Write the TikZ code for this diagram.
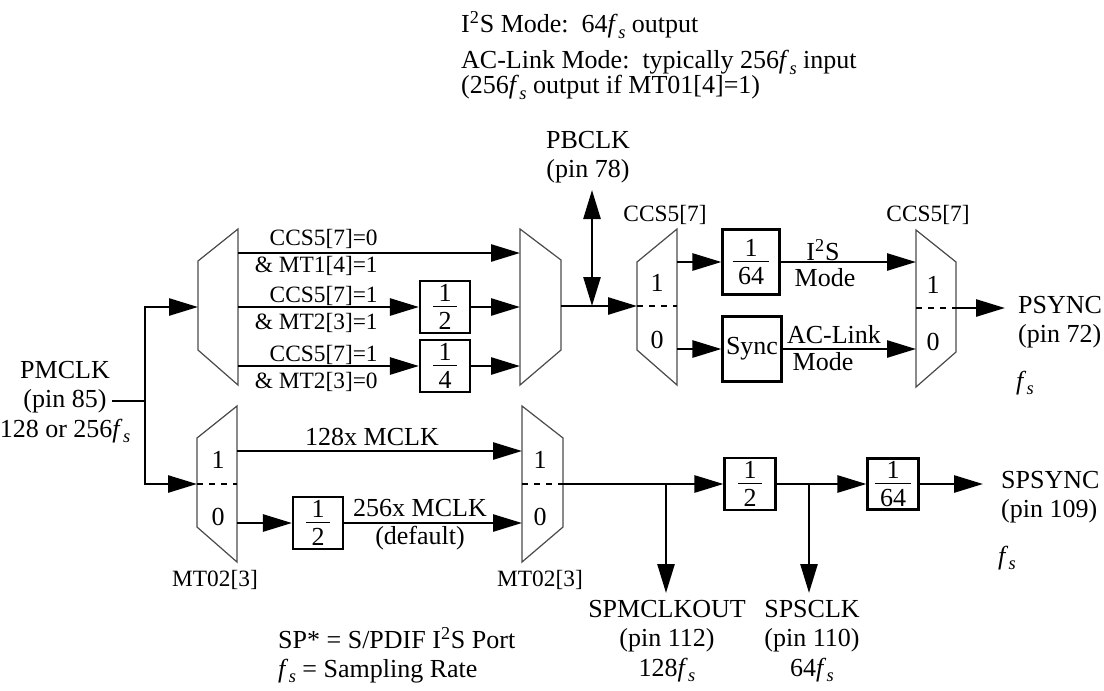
\documentclass[tikz,border=0pt]{standalone}
\usepackage{fontspec}
\setmainfont{Liberation Serif}
\usetikzlibrary{arrows.meta}
\newcommand{\fsx}{\textit{f}\kern0.2pt\raisebox{-0.45ex}{\fontsize{10.5}{11}\selectfont\textit{s}}}
\newcommand{\itwos}{I\textsuperscript{2}S}
\newcommand{\frc}[2]{{\renewcommand{\arraystretch}{0}\setlength{\arrayrulewidth}{0.9pt}%
  \begin{tabular}{@{\hspace{3pt}}c@{\hspace{3pt}}}\rule[-2.2pt]{0pt}{12pt}#1\\\hline\rule{0pt}{12.6pt}#2\end{tabular}}}

\begin{document}
\begin{tikzpicture}[x=0.02cm,y=-0.02cm,font=\fontsize{14.8}{16.6}\selectfont,
    arr/.style={line width=1.5pt,-{Triangle[length=0.58cm,width=0.34cm]}},
    arrb/.style={line width=1.5pt,{Triangle[length=0.58cm,width=0.34cm]}-{Triangle[length=0.58cm,width=0.34cm]}},
    wire/.style={line width=1.5pt},
    mux/.style={draw=black!70,line width=0.7pt},
    sel/.style={line width=1.4pt,dash pattern=on 0.12cm off 0.12cm},
    divbox/.style={draw,line width=1.2pt,inner sep=0pt,minimum width=1cm,minimum height=1.04cm},
    lbl/.style={inner sep=0pt,font=\fontsize{13.3}{15}\selectfont}]
      \useasboundingbox (0,0) rectangle (1104,690);

      \draw[mux] (198,261) -- (238,229) -- (238,385) -- (198,350) -- cycle;
      \draw[mux] (520,229) -- (561,260) -- (561,350) -- (520,385) -- cycle;
      \draw[mux] (637,262) -- (677,229) -- (677,385) -- (637,350) -- cycle;
      \draw[mux] (916,230) -- (956,262) -- (956,352) -- (916,387) -- cycle;
      \draw[mux] (197,438) -- (237,406) -- (237,562) -- (197,527) -- cycle;
      \draw[mux] (522,406) -- (563,438) -- (563,527) -- (522,562) -- cycle;

      \coordinate (pmo) at (112,401);
      \coordinate (jm) at (145,401);
      \coordinate (aIn) at (198,307);
      \coordinate (a1) at (238,253);
      \coordinate (a2) at (238,307);
      \coordinate (a3) at (238,366);
      \coordinate (d1) at (520,253);
      \coordinate (d2) at (520,307);
      \coordinate (d3) at (520,366);
      \coordinate (dOut) at (561,306);
      \coordinate (eIn) at (637,306);
      \coordinate (eR) at (677,306);
      \coordinate (e1) at (677,262);
      \coordinate (e0) at (677,349);
      \coordinate (f1) at (916,262);
      \coordinate (f0) at (916,349);
      \coordinate (fL) at (916,308);
      \coordinate (fOut) at (956,308);
      \coordinate (psA) at (1005,308);
      \coordinate (pbT) at (592,190);
      \coordinate (pbB) at (592,306);
      \coordinate (bIn) at (197,484);
      \coordinate (bR) at (237,484);
      \coordinate (b1) at (237,451);
      \coordinate (b0) at (237,523);
      \coordinate (c1) at (522,451);
      \coordinate (c0) at (522,523);
      \coordinate (cL) at (522,484);
      \coordinate (cOut) at (563,484);
      \coordinate (k1) at (666,484);
      \coordinate (k1e) at (666,593);
      \coordinate (k2) at (809,484);
      \coordinate (k2e) at (809,593);
      \coordinate (spA) at (983,484);

      \node[divbox] (h1) at (445,307) {\frc{1}{2}};
      \node[divbox] (q1) at (445,366) {\frc{1}{4}};
      \node[divbox,minimum width=1.14cm,minimum height=1.3cm] (s64) at (751,262) {\frc{1}{64}};
      \node[divbox,minimum width=1.18cm,minimum height=1.3cm] (sy) at (752,349) {Sync};
      \node[divbox] (h2) at (318,523) {\frc{1}{2}};
      \node[divbox,minimum width=1.02cm] (h3) at (750,484) {\frc{1}{2}};
      \node[divbox,minimum width=1.02cm,minimum height=1.02cm] (s64b) at (893,484) {\frc{1}{64}};

      \draw[wire] (pmo) -- (jm);
      \draw[arr] (jm) |- (aIn);
      \draw[arr] (jm) |- (bIn);
      \draw[arr] (a1) -- (d1);
      \draw[arr] (a2) -- (h1);
      \draw[arr] (h1) -- (d2);
      \draw[arr] (a3) -- (q1);
      \draw[arr] (q1) -- (d3);
      \draw[arr] (dOut) -- (eIn);
      \draw[arrb] (pbT) -- (pbB);
      \draw[sel] (eIn) -- (eR);
      \draw[arr] (e1) -- (s64);
      \draw[arr] (e0) -- (sy);
      \draw[arr] (s64) -- (f1);
      \draw[arr] (sy) -- (f0);
      \draw[sel] (fL) -- (fOut);
      \draw[arr] (fOut) -- (psA);

      \draw[sel] (bIn) -- (bR);
      \draw[arr] (b1) -- (c1);
      \draw[arr] (b0) -- (h2);
      \draw[arr] (h2) -- (c0);
      \draw[sel] (cL) -- (cOut);
      \draw[arr] (cOut) -- (h3);
      \draw[arr] (k1) -- (k1e);
      \draw[arr] (h3) -- (s64b);
      \draw[arr] (k2) -- (k2e);
      \draw[arr] (s64b) -- (spA);

      \node[lbl,anchor=east] (l1a) at (378,239) {CCS5[7]=0};
      \node[lbl,anchor=east] (l1b) at (378,266) {\& MT1[4]=1};
      \node[lbl,anchor=east] (l2a) at (378,296) {CCS5[7]=1};
      \node[lbl,anchor=east] (l2b) at (378,323) {\& MT2[3]=1};
      \node[lbl,anchor=east] (l3a) at (378,355) {CCS5[7]=1};
      \node[lbl,anchor=east] (l3b) at (378,382) {\& MT2[3]=0};

      \node[lbl] (se) at (665,215) {CCS5[7]};
      \node[lbl] (sf) at (928,215) {CCS5[7]};
      \node[lbl] (sb) at (215,580) {MT02[3]};
      \node[lbl] (sc) at (540,580) {MT02[3]};

      \node (e1t) at (657,283) {1};
      \node (e0t) at (657,340) {0};
      \node (f1t) at (933,285) {1};
      \node (f0t) at (933,342) {0};
      \node (b1t) at (218,460) {1};
      \node (b0t) at (218,517) {0};
      \node (c1t) at (540,460) {1};
      \node (c0t) at (540,517) {0};

      \node (mi) at (823,250) {\itwos};
      \node (mm) at (825,278) {Mode};
      \node (ma) at (834,335) {AC-Link};
      \node (mb) at (823,362) {Mode};
      \node (m128) at (372,437) {128x MCLK};
      \node (m256) at (420,508) {256x MCLK};
      \node (mdef) at (420,538) {(default)};

      \node[align=center] (pm) at (65,402) {PMCLK\\(pin 85)\\128 or 256\fsx};
      \node[align=center] (pb) at (588,157) {PBCLK\\(pin 78)};
      \node[align=left,anchor=west] (ps) at (1012,322) {PSYNC\\(pin 72)};
      \node (psf) at (1025,383) {\fsx};
      \node[align=left,anchor=west] (sps) at (995,497) {SPSYNC\\(pin 109)};
      \node (spsf) at (1007,558) {\fsx};
      \node[align=center] (spm) at (667,641) {SPMCLKOUT\\(pin 112)\\128\fsx};
      \node[align=center] (spc) at (812,641) {SPSCLK\\(pin 110)\\64\fsx};
      \node[align=left,anchor=west] (leg) at (272,655) {SP* = S/PDIF \itwos{} Port\\\fsx{} = Sampling Rate};
      \node[anchor=west] (top1) at (455,25) {\itwos{} Mode:\ \ 64\fsx{} output};
      \node[align=left,anchor=west,font=\fontsize{14.8}{14.2}\selectfont] (top2) at (455,75) {AC-Link Mode:\ \ typically 256\fsx{} input\\(256\fsx{} output if MT01[4]=1)};
    \end{tikzpicture}
\end{document}
